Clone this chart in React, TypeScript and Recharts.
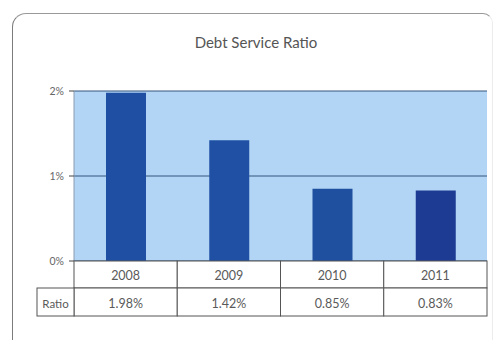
import React from 'react';
import { BarChart, Bar, XAxis, YAxis, CartesianGrid, Cell } from 'recharts';

// Debt service ratio, in percent
const years = ['2008', '2009', '2010', '2011'];
const ratios = [1.98, 1.42, 0.85, 0.83];
const yTicks = [0, 1, 2];
const rowLabel = 'Ratio';

const chartData = years.map((year, i) => ({ year, ratio: ratios[i] }));

const BAR_COLORS = ['#1f4fa2', '#1f50a3', '#1f4f9f', '#1d3b93'];
const W = 495;
const H = 340;
const PLOT_LEFT = 74;
const PLOT_RIGHT = 487;
const ROW_H = 27;
const LABEL_W = 37;
const FONT = 'Lato, "Open Sans", sans-serif';

const TableTick = (props: any) => {
  const { x, y, payload, index } = props;
  const band = (PLOT_RIGHT - PLOT_LEFT) / years.length;
  const left = x - band / 2;
  const textStyle = { fontFamily: FONT, fontSize: 12.5, fill: '#5a5a5a' };
  return (
    <g>
      <rect x={left} y={y} width={band} height={ROW_H} fill="#fff" stroke="#555" />
      <text x={x} y={y + ROW_H / 2 + 1} textAnchor="middle" dominantBaseline="central" style={textStyle}>
        {payload.value}
      </text>
      <rect x={left} y={y + ROW_H} width={band} height={ROW_H + 1} fill="#fff" stroke="#555" />
      <text x={x} y={y + ROW_H * 1.5 + 2} textAnchor="middle" dominantBaseline="central" style={textStyle}>
        {ratios[index].toFixed(2) + '%'}
      </text>
      {index === 0 && (
        <g>
          <rect x={left - LABEL_W} y={y + ROW_H} width={LABEL_W} height={ROW_H + 1} fill="#fff" stroke="#555" />
          <text
            x={left - LABEL_W / 2}
            y={y + ROW_H * 1.5 + 2}
            textAnchor="middle"
            dominantBaseline="central"
            style={{ ...textStyle, fontSize: 11.5 }}
          >
            {rowLabel}
          </text>
        </g>
      )}
    </g>
  );
};

const App: React.FC = () => {
  return (
    <div style={{ position: 'absolute', left: 0, top: 0, width: W, height: H, overflow: 'hidden', background: '#fff' }}>
      {/* outer frame */}
      <div
        style={{
          position: 'absolute',
          left: 12,
          top: 13,
          width: 479,
          height: 360,
          borderTop: '1px solid #999',
          borderLeft: '1px solid #7c7c7c',
          borderRight: '1px solid #ececec',
          borderTopLeftRadius: 14,
          borderTopRightRadius: 10,
        }}
      />
      <div
        style={{
          position: 'absolute',
          left: 0,
          top: 33,
          width: 512,
          textAlign: 'center',
          fontFamily: FONT,
          fontSize: 15,
          color: '#555',
        }}
      >
        Debt Service Ratio
      </div>
      <div style={{ position: 'absolute', left: 0, top: 0 }}>
        <BarChart
          width={W}
          height={H}
          data={chartData}
          margin={{ top: 91, right: W - PLOT_RIGHT, bottom: 24, left: 0 }}
          barCategoryGap={0}
        >
          <CartesianGrid vertical={false} fill="#b3d5f5" stroke="#34557e" strokeOpacity={1} />
          <XAxis
            dataKey="year"
            height={55}
            tickSize={0}
            tickMargin={0}
            axisLine={false}
            tickLine={false}
            interval={0}
            tick={<TableTick />}
          />
          <YAxis
            width={PLOT_LEFT}
            domain={[0, 2]}
            ticks={yTicks}
            tickFormatter={(v: number) => v + '%'}
            tickSize={5}
            tickMargin={5}
            tick={{ fontSize: 10.5, fill: '#666', fontFamily: FONT }}
            tickLine={{ stroke: '#444' }}
            axisLine={{ stroke: '#8a9ab0' }}
          />
          <YAxis
            yAxisId="right"
            orientation="right"
            width={0}
            domain={[0, 2]}
            tick={false}
            tickLine={false}
            axisLine={{ stroke: '#9aa8b8' }}
          />
          <Bar dataKey="ratio" barSize={40} isAnimationActive={false}>
            {chartData.map((d, i) => (
              <Cell key={d.year} fill={BAR_COLORS[i]} />
            ))}
          </Bar>
        </BarChart>
      </div>
    </div>
  );
};

export default App;
